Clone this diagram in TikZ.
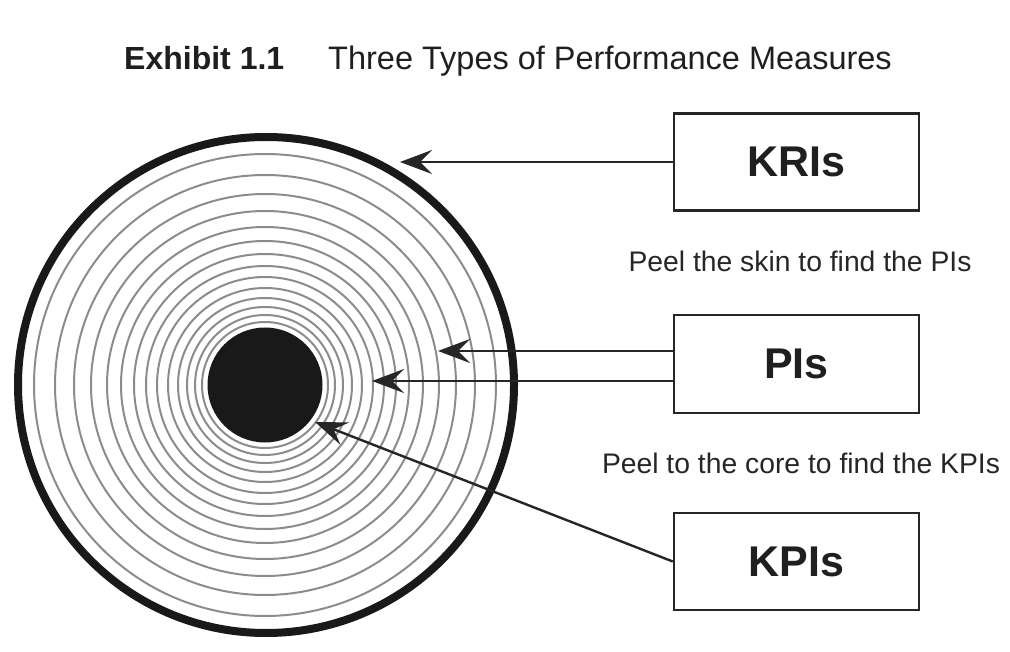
\documentclass[tikz,border=0pt]{standalone}
\usepackage{fontspec}
\setmainfont{Liberation Sans}
\usetikzlibrary{arrows.meta}
\begin{document}
\begin{tikzpicture}[x=1pt,y=-1pt,
  ring/.style={draw=black!45, line width=2pt},
  box/.style={draw=black!85, line width=2.5pt, minimum width=245pt, minimum height=97pt, inner sep=0pt, text=black!88, font=\fontsize{43}{50}\selectfont\bfseries},
  arr/.style={draw=black!85, line width=2.4pt, -{Stealth[length=32pt,width=24pt,inset=12pt]}},
  note/.style={inner sep=0pt, anchor=base, text=black!85, font=\fontsize{28.3}{32}\selectfont},
  ttl/.style={inner sep=0pt, anchor=base west, text=black!88, font=\fontsize{32.5}{36}\selectfont}]
\useasboundingbox[fill=white] (0,0) rectangle (1010,652);
% title
\node[ttl, font=\fontsize{32}{36}\selectfont\bfseries] (ex) at (124,70) {Exhibit 1.1};
\node[ttl] (tt) at (328,70) {Three Types of Performance Measures};
% rings
\coordinate (c) at (265,385);
\foreach \r in {63,70,78,87,97,108,119,131,144,158,174,191,210,231}
  \draw[ring] (c) circle[radius=\r];
\node[circle, fill=black!90, minimum size=115pt, inner sep=0pt] (core) at (c) {};
\coordinate (oc) at (266,385);
\draw[line width=8pt, draw=black!90] (oc) circle[radius=248];
% boxes
\node[box] (kri) at (796.5,162) {KRIs};
\node[box, minimum height=98pt] (pi) at (796.5,364) {PIs};
\node[box] (kpi) at (796.5,561.5) {KPIs};
% notes
\node[note] (n1) at (800,272) {Peel the skin to find the PIs};
\node[note] (n2) at (801,473) {Peel to the core to find the KPIs};
% arrow tips
\coordinate (t1) at (400,162);
\coordinate (t2) at (438,351);
\coordinate (t3) at (372,381);
\coordinate (t4) at (315,422);
\draw[arr] (kri.west) -- (t1);
\draw[arr] ([yshift=13pt]pi.west) -- (t2);
\draw[arr] ([yshift=-17pt]pi.west) -- (t3);
\draw[arr] (kpi.west) -- (t4);
\end{tikzpicture}
\end{document}
